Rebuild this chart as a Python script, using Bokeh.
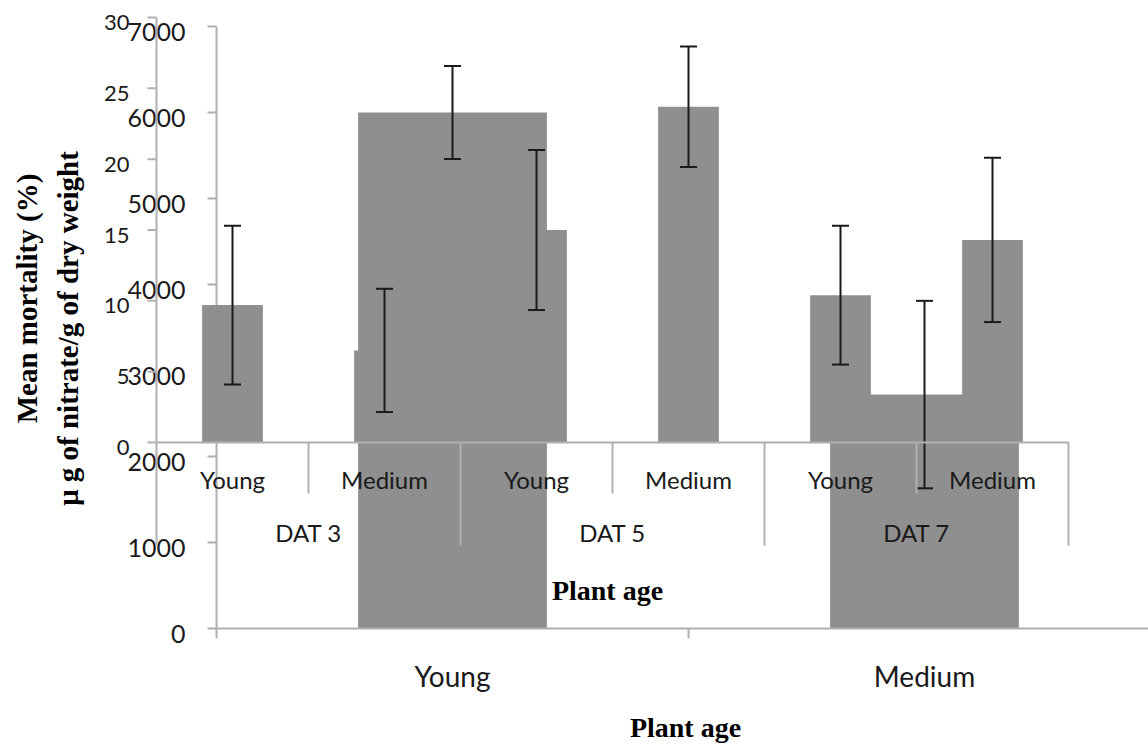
import math
from bokeh.plotting import figure
from bokeh.models import Range1d, ColumnDataSource, Label
from bokeh.core.properties import value
from bokeh.embed import file_html
from bokeh.resources import INLINE

# Nitrate content by plant age (µg/g dry weight)
age_classes = ["Young", "Medium"]
nitrate_mean = [6000, 2720]
nitrate_err = [540, 1090]
nitrate_ticks = [0, 1000, 2000, 3000, 4000, 5000, 6000, 7000]

# Mortality (%) by days after transplanting and plant age
dat_labels = ["DAT 3", "DAT 5", "DAT 7"]
dat_ages = ["Young", "Medium"]
mortality_mean = [9.7, 6.5, 15.0, 23.7, 10.4, 14.3]
mortality_err = [5.6, 4.35, 5.65, 4.25, 4.9, 5.8]
mortality_ticks = [0, 5, 10, 15, 20, 25, 30]

W, H = 1148, 744
# pixel placement of the two overlaid plot areas
A_LEFT, A_BASE, A_TOP, A_CAT_W = 216, 628, 26, 472
B_LEFT, B_BASE, B_TOP, B_CAT_W = 156, 442, 17, 152

BAR = "#8f8f8f"
AXIS = "#b0b0b0"
INK = "#1a1a1a"
SANS = value("Lato")

a_u = nitrate_ticks[-1] / (A_BASE - A_TOP)
b_u = mortality_ticks[-1] / (B_BASE - B_TOP)

p = figure(
    width=W, height=H, output_backend="svg", toolbar_location=None,
    x_axis_location=None, y_axis_location=None, min_border=0,
    x_range=Range1d(-A_LEFT / A_CAT_W, (W - A_LEFT) / A_CAT_W),
    y_range=Range1d(-(H - A_BASE) * a_u, A_BASE * a_u),
)
p.extra_x_ranges = {"bx": Range1d(-B_LEFT / B_CAT_W, (W - B_LEFT) / B_CAT_W)}
p.extra_y_ranges = {"by": Range1d(-(H - B_BASE) * b_u, B_BASE * b_u)}
p.xgrid.visible = False
p.ygrid.visible = False
p.outline_line_color = None
p.background_fill_color = "white"
p.border_fill_color = "white"

# ---------- nitrate chart (behind) ----------
a_x = [i + 0.5 for i in range(len(age_classes))]
a_src = ColumnDataSource(dict(
    x=a_x, top=nitrate_mean,
    lo=[m - e for m, e in zip(nitrate_mean, nitrate_err)],
    hi=[m + e for m, e in zip(nitrate_mean, nitrate_err)],
))
p.vbar(x="x", top="top", bottom=0, width=0.4, source=a_src,
       fill_color=BAR, line_color=None)
p.segment(x0="x", y0="lo", x1="x", y1="hi", source=a_src,
          line_color=INK, line_width=2)
p.scatter(x="x", y="lo", source=a_src, marker="dash", size=17,
          line_color=INK, line_width=2)
p.scatter(x="x", y="hi", source=a_src, marker="dash", size=17,
          line_color=INK, line_width=2)

# axes of the nitrate chart
p.segment(x0=[0], y0=[0], x1=[0], y1=[nitrate_ticks[-1]],
          line_color=AXIS, line_width=2)
p.segment(x0=[0], y0=[0], x1=[len(age_classes)], y1=[0],
          line_color=AXIS, line_width=2)
p.ray(x=[0] * len(nitrate_ticks), y=nitrate_ticks, length=9,
      length_units="screen", angle=math.pi, line_color=AXIS, line_width=2)
p.ray(x=list(range(len(age_classes) + 1)), y=[0] * (len(age_classes) + 1),
      length=10, length_units="screen", angle=-math.pi / 2,
      line_color=AXIS, line_width=2)
p.text(x=[0] * len(nitrate_ticks), y=nitrate_ticks,
       text=[str(t) for t in nitrate_ticks], text_font=SANS,
       text_font_size="25px", text_color=INK, text_align="right",
       text_baseline="middle", x_offset=-31, y_offset=5)
p.text(x=a_x, y=[0] * len(a_x), text=age_classes, text_font=SANS,
       text_font_size="28px", text_color=INK, text_align="center",
       text_baseline="middle", y_offset=47)

# ---------- mortality chart (front) ----------
b_x = [i + 0.5 for i in range(len(dat_labels) * len(dat_ages))]
b_src = ColumnDataSource(dict(
    x=b_x, top=mortality_mean,
    lo=[m - e for m, e in zip(mortality_mean, mortality_err)],
    hi=[m + e for m, e in zip(mortality_mean, mortality_err)],
))
rb = dict(x_range_name="bx", y_range_name="by")
p.vbar(x="x", top="top", bottom=0, width=0.4, source=b_src,
       fill_color=BAR, line_color=None, **rb)

n_b = len(b_x)
p.segment(x0=[0], y0=[0], x1=[0], y1=[mortality_ticks[-1]],
          line_color=AXIS, line_width=2, **rb)
p.segment(x0=[0], y0=[0], x1=[n_b], y1=[0],
          line_color=AXIS, line_width=2, **rb)
p.ray(x=[0] * len(mortality_ticks), y=mortality_ticks, length=9,
      length_units="screen", angle=math.pi, line_color=AXIS, line_width=2, **rb)
# category cell borders below the axis
grp = len(dat_ages)
outer = [i for i in range(n_b + 1) if i % grp == 0]
inner = [i for i in range(n_b + 1) if i % grp != 0]
p.ray(x=outer, y=[0] * len(outer), length=103, length_units="screen",
      angle=-math.pi / 2, line_color=AXIS, line_width=2, **rb)
p.ray(x=inner, y=[0] * len(inner), length=51, length_units="screen",
      angle=-math.pi / 2, line_color=AXIS, line_width=2, **rb)

p.segment(x0="x", y0="lo", x1="x", y1="hi", source=b_src,
          line_color=INK, line_width=2, **rb)
p.scatter(x="x", y="lo", source=b_src, marker="dash", size=17,
          line_color=INK, line_width=2, **rb)
p.scatter(x="x", y="hi", source=b_src, marker="dash", size=17,
          line_color=INK, line_width=2, **rb)

p.text(x=[0] * len(mortality_ticks), y=mortality_ticks,
       text=[str(t) for t in mortality_ticks], text_font=SANS,
       text_font_size="22px", text_color=INK, text_align="right",
       text_baseline="middle", x_offset=-27, y_offset=5, **rb)
p.text(x=b_x, y=[0] * n_b, text=dat_ages * len(dat_labels), text_font=SANS,
       text_font_size="24px", text_color=INK, text_align="center",
       text_baseline="middle", y_offset=37, **rb)
p.text(x=[grp * g + grp / 2 for g in range(len(dat_labels))],
       y=[0] * len(dat_labels), text=dat_labels, text_font=SANS,
       text_font_size="24px", text_color=INK, text_align="center",
       text_baseline="middle", y_offset=90, **rb)

# ---------- axis titles ----------
def title(text, cx, cy, angle=0.0, size="28px"):
    p.add_layout(Label(x=cx, y=H - cy, x_units="screen", y_units="screen",
                       text=text, angle=angle, text_font="Liberation Serif",
                       text_font_style="bold", text_font_size=size,
                       text_color="black", text_align="center",
                       text_baseline="middle"))

title("Mean mortality (%)", 26, 298, math.pi / 2, "29px")
title("\u03bc g of nitrate/g of dry weight", 67, 328, math.pi / 2, "29px")
title("Plant age", 607, 590)
title("Plant age", 685, 727)

open("out.html", "w").write(file_html(p, INLINE))
